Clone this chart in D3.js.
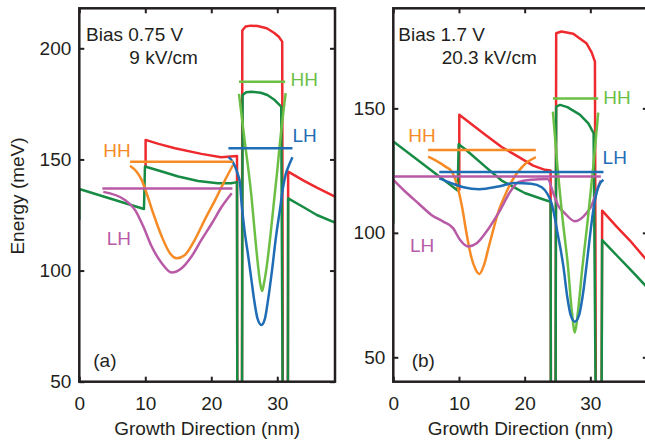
<!DOCTYPE html>
<html>
<head>
<meta charset="utf-8">
<script src="https://cdn.jsdelivr.net/npm/d3@7"></script>
<style>
  body { margin: 0; background: #fff; }
  text { font-family: "Liberation Sans", Arial, sans-serif; }
</style>
</head>
<body>
<script>
// ---- data (x in nm, y in meV) ----
const xTicks = [0, 10, 20, 30];
const yTicksA = [50, 100, 150, 200];
const yTicksB = [50, 100, 150];

// panel (a): bias 0.75 V
const redA = [[10.05,146.8],[10.05,158.8],[12,157],[14.5,155],[18.5,152.5],[21.5,151],[23.9,151.6],
  [23.95,20],[24.65,20],[24.7,208],[25.2,209.8],[26,210.2],[27,210],[28.4,209],[29.5,207],[30.2,205.3],[30.75,203],
  [30.85,20],[31.6,20],[31.65,144.5],[34,140.5],[36,137.3],[38.75,133.3]];
const greenA = [[0,122.8],[0,136.7],[9.8,127.7],[9.95,146.8],[12,145],[15,142.3],[18,140.3],[21,139.3],[23,139.3],[23.9,139.8],
  [23.95,20],[24.65,20],[24.75,179],[25.3,180.2],[26.1,180.5],[27.5,180],[28.5,179],[29.5,177],[30.6,173.8],
  [30.85,20],[31.6,20],[31.65,132.5],[34,128.5],[36,125],[38.75,121.6]];
const hhWaveA = [[7.68,147.2],[8.69,144.5],[9.45,140.8],[10.2,134.8],[11.2,125.8],[12.5,115.3],[13.74,107.8],[14.75,105.5],
  [16,107],[17.5,113.8],[19,122.8],[20.6,131.8],[22.1,140.8],[23.3,147.5]];
const lhWaveA = [[3.64,135.4],[6.92,131.8],[8.44,127.3],[9.7,119.8],[10.97,110.8],[12.5,103.3],[14,99.1],[15.5,101],
  [17,106.3],[18.5,113.8],[20.1,121.3],[21.6,128.8],[23.1,134.8]];
const hh2WaveA = [[24.2,179.5],[25.1,157.3],[25.6,146],[26.1,133],[26.6,116.8],[27.1,101.8],[27.4,94.5],[27.7,90.8],
  [28,94.5],[28.4,101.8],[29,116.8],[29.5,131],[30,145],[30.4,157.3],[31.27,179.8]];
const lh2WaveA = [[22.6,151],[23,150],[23.6,146.8],[24,143.5],[24.35,139.3],[24.6,130],[25,119],[25.6,106.5],[26.1,95.5],
  [26.5,86.7],[27,78.5],[27.6,75.5],[28.1,78],[28.6,86.7],[29.2,100],[29.8,115],[30.4,127.3],[30.9,137.8],[31.3,143.5],
  [31.7,146.8],[32.3,151]];
const hhLevelA = [[7.7,149],[23.3,149]];
const lhLevelA = [[3.5,136.9],[23.2,136.9]];
const hh2LevelA = [[24.2,185],[31.2,185]];
const lh2LevelA = [[22.6,155],[32.3,155]];

// panel (b): bias 1.7 V
const redB = [[10.05,117],[10.05,147.4],[14,139.4],[16.5,134.5],[19,130.6],[21.3,127],[23.1,125.3],[23.95,125],
  [24,20],[24.7,20],[24.8,180.2],[25.6,180.9],[27.4,180],[29.4,176.2],[30.2,172.5],[30.7,168.8],
  [30.85,20],[31.7,20],[31.8,108.9],[34,102.5],[36,97],[38.75,88.5]];
const greenB = [[0,103.8],[0,136.7],[9.8,117],[9.95,135.6],[11,133.5],[14,126.6],[16.5,121],[20,116],[23.1,113.2],[23.95,112.5],
  [24,20],[24.7,20],[24.8,150.7],[25.4,151.4],[26.5,150.5],[28.4,147.5],[29.7,144],[30.5,140],
  [30.85,20],[31.7,20],[31.8,97.1],[34,91],[36,85.5],[38.75,77.8]];
const hhWaveB = [[5.3,130.6],[6.5,129],[8,126.5],[8.9,124.6],[9.65,119.8],[10.5,110],[11.2,99],[11.9,90],[12.5,85.5],
  [13.1,83.5],[13.8,87],[14.5,94],[15.3,102],[16,108.5],[17,115],[18,120.6],[20,127.5],[21.7,130.4]];
const lhWaveB = [[0,121.3],[1.8,116.6],[3.8,111.9],[5.8,107.2],[7.6,104.5],[9.1,101.9],[10.15,97.2],[11.4,94.5],[12.7,95.8],
  [14,99.8],[16,107.9],[18,117.3],[19,120.3],[21,121.3],[23.5,121.6],[24.35,116],[25.2,110.5],[26.1,107.9],[27.65,104.7],
  [29.4,107.9],[30.2,111],[30.7,114.6],[31.2,118.5],[31.6,121]];
const hh2WaveB = [[24.3,148.7],[24.95,128],[25.8,105],[26.6,86.4],[27.2,68],[27.65,60],[28.1,68],[28.8,86.4],[29.6,105],
  [30.5,128],[31.2,148.3]];
const lh2WaveB = [[7,121.9],[8.9,119.9],[10.7,118.3],[13.1,117.5],[16,118.6],[18.5,120],[21,119.7],[22.6,118.3],[23.5,115.5],
  [24.1,111.8],[24.6,106],[25,100],[25.5,93],[25.9,86.4],[26.5,74],[27,67],[27.65,64.3],[28.3,67],[28.8,74],[29.4,86.4],
  [30,100],[30.5,110],[31,116.5],[31.5,120],[32,121.3]];
const hhLevelB = [[5.3,133.3],[21.7,133.3]];
const lhLevelB = [[0,122.6],[31.6,122.6]];
const hh2LevelB = [[24.3,154],[31.2,154]];
const lh2LevelB = [[7,124.4],[32,124.4]];

const notesA = ['Bias 0.75 V', '9 kV/cm'];
const notesB = ['Bias 1.7 V', '20.3 kV/cm'];
const tags = ['(a)', '(b)'];

const colors = {
  red: '#ee2a2e', green: '#178b43', hh: '#f68b26', lh: '#b85aa6', hh2: '#6cbf45', lh2: '#1f6db5'
};
const ink = '#231f20';

const W = 645, H = 443;
const fontSize = 19;

let svg = d3.select('body').append('svg')
  .attr('width', W)
  .attr('height', H);

function addText(g, xPos, yPos, str, color) {
  return g.append('text')
    .attr('x', xPos)
    .attr('y', yPos)
    .style('fill', color || ink)
    .style('font-size', fontSize + 'px')
    .text(str);
}

function drawPanel(p, idx) {
  let x = d3.scaleLinear().domain([0, 38.75]).range([p.left, p.right]);
  let y = d3.scaleLinear().domain(p.yDomain).range([p.bottom, p.top]);

  let g = svg.append('g');

  let clipId = 'clip' + idx;
  g.append('clipPath').attr('id', clipId)
    .append('rect')
    .attr('x', p.left).attr('y', p.top)
    .attr('width', p.right - p.left).attr('height', p.bottom - p.top);

  // axes with inward ticks on all four sides
  g.append('g')
    .attr('transform', `translate(0,${p.bottom})`)
    .call(d3.axisBottom(x).tickValues(xTicks).tickSize(-5).tickSizeOuter(0).tickPadding(14.5))
    .call(a => a.select('.domain').remove());
  g.append('g')
    .attr('transform', `translate(0,${p.top})`)
    .call(d3.axisTop(x).tickValues(xTicks).tickSize(-5).tickSizeOuter(0).tickFormat(''))
    .call(a => a.select('.domain').remove());
  g.append('g')
    .attr('transform', `translate(${p.left},0)`)
    .call(d3.axisLeft(y).tickValues(p.yTicks).tickSize(-5).tickSizeOuter(0).tickPadding(8))
    .call(a => a.select('.domain').remove());
  g.append('g')
    .attr('transform', `translate(${p.right},0)`)
    .call(d3.axisRight(y).tickValues(p.yTicks).tickSize(-5).tickSizeOuter(0).tickFormat(''))
    .call(a => a.select('.domain').remove());

  g.selectAll('.tick line').attr('stroke', ink).attr('stroke-width', 2);
  g.selectAll('.tick text')
    .style('font-family', '"Liberation Sans", Arial, sans-serif')
    .style('font-size', fontSize + 'px')
    .style('fill', ink);

  let plot = g.append('g').attr('clip-path', `url(#${clipId})`);

  let bandLine = d3.line().x(d => x(d[0])).y(d => y(d[1]));
  let waveLine = d3.line().x(d => x(d[0])).y(d => y(d[1])).curve(d3.curveMonotoneX);

  let series = [
    { data: p.red, color: colors.red, line: bandLine },
    { data: p.green, color: colors.green, line: bandLine },
    { data: p.hhWave, color: colors.hh, line: waveLine },
    { data: p.lhWave, color: colors.lh, line: waveLine },
    { data: p.hh2Wave, color: colors.hh2, line: waveLine },
    { data: p.lh2Wave, color: colors.lh2, line: waveLine },
    { data: p.hhLevel, color: colors.hh, line: bandLine },
    { data: p.lhLevel, color: colors.lh, line: bandLine },
    { data: p.hh2Level, color: colors.hh2, line: bandLine },
    { data: p.lh2Level, color: colors.lh2, line: bandLine }
  ];

  plot.selectAll('path.curve')
    .data(series)
    .enter()
    .append('path')
    .attr('class', 'curve')
    .attr('d', s => s.line(s.data))
    .attr('fill', 'none')
    .attr('stroke', s => s.color)
    .attr('stroke-width', 2.5)
    .attr('stroke-linejoin', 'round');

  // frame
  g.append('rect')
    .attr('x', p.left).attr('y', p.top)
    .attr('width', p.right - p.left).attr('height', p.bottom - p.top)
    .attr('fill', 'none')
    .attr('stroke', ink)
    .attr('stroke-width', 2.5);

  // state labels
  p.labels.forEach(l => {
    addText(g, x(l.at[0]), y(l.at[1]), l.text, l.color);
  });

  // bias notes and panel tag
  addText(g, p.left + p.noteDx[0], p.top + 32.7, p.notes[0]);
  addText(g, p.left + p.noteDx[1], p.top + 56, p.notes[1]);
  addText(g, p.left + p.tagDx, p.bottom - 15, p.tag);

  addText(g, (p.left + p.right) / 2, 435, 'Growth Direction (nm)')
    .attr('text-anchor', 'middle');
}

drawPanel({
  left: 79.3, right: 335, top: 8.3, bottom: 381.7,
  yDomain: [50, 218], yTicks: yTicksA,
  red: redA, green: greenA,
  hhWave: hhWaveA, lhWave: lhWaveA, hh2Wave: hh2WaveA, lh2Wave: lh2WaveA,
  hhLevel: hhLevelA, lhLevel: lhLevelA, hh2Level: hh2LevelA, lh2Level: lh2LevelA,
  notes: notesA, noteDx: [6.7, 50], tag: tags[0], tagDx: 14,
  labels: [
    { text: 'HH', at: [3.64, 151.3], color: colors.hh },
    { text: 'LH', at: [4.15, 111.5], color: colors.lh },
    { text: 'HH', at: [32.0, 183.2], color: colors.hh2 },
    { text: 'LH', at: [32.3, 158], color: colors.lh2 }
  ]
}, 0);

drawPanel({
  left: 393.3, right: 647.8, top: 8.3, bottom: 381.7,
  yDomain: [40.2, 190.2], yTicks: yTicksB,
  red: redB, green: greenB,
  hhWave: hhWaveB, lhWave: lhWaveB, hh2Wave: hh2WaveB, lh2Wave: lh2WaveB,
  hhLevel: hhLevelB, lhLevel: lhLevelB, hh2Level: hh2LevelB, lh2Level: lh2LevelB,
  notes: notesB, noteDx: [5, 48.4], tag: tags[1], tagDx: 18.4,
  labels: [
    { text: 'HH', at: [2.28, 136.3], color: colors.hh },
    { text: 'LH', at: [2.54, 92.4], color: colors.lh },
    { text: 'HH', at: [31.96, 151.7], color: colors.hh2 },
    { text: 'LH', at: [31.87, 127.6], color: colors.lh2 }
  ]
}, 1);

addText(svg, 0, 0, 'Energy (meV)')
  .attr('x', null).attr('y', null)
  .attr('transform', 'translate(24,196) rotate(-90)')
  .attr('text-anchor', 'middle');
</script>
</body>
</html>
